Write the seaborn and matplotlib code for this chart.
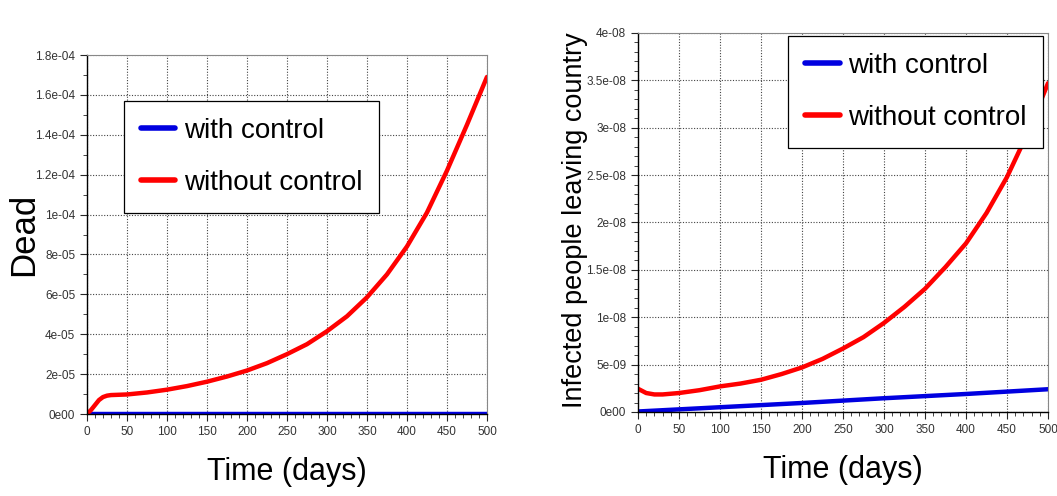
import numpy as np
import pandas as pd
import matplotlib
matplotlib.use("Agg")
import matplotlib.pyplot as plt
import matplotlib.ticker as mticker
import seaborn as sns

# values
dead_days = [0, 5, 10, 15, 20, 25, 30, 50, 75, 100, 125, 150, 175, 200, 225, 250,
             275, 300, 325, 350, 375, 400, 425, 450, 475, 500]
dead_without = [0, 0.2, 0.45, 0.7, 0.85, 0.92, 0.95, 0.98, 1.08, 1.22, 1.40, 1.62, 1.88,
                2.18, 2.55, 3.0, 3.5, 4.15, 4.9, 5.85, 7.0, 8.4, 10.1, 12.2, 14.5, 16.9]  # x1e-5
dead_with_days = [0, 500]
dead_with = [0, 0]

inf_days = [0, 10, 20, 30, 50, 75, 100, 125, 150, 175, 200, 225, 250, 275, 300, 325,
            350, 375, 400, 425, 450, 475, 500]
inf_without = [2.45, 2.0, 1.85, 1.85, 2.0, 2.3, 2.7, 3.0, 3.4, 4.0, 4.7, 5.6, 6.7, 7.9,
               9.4, 11.1, 13.0, 15.3, 17.8, 21.0, 24.8, 29.4, 34.7]  # x1e-9
inf_with_days = [0, 100, 200, 300, 400, 500]
inf_with = [0.05, 0.5, 0.95, 1.45, 1.9, 2.4]  # x1e-9

labels = ["with control", "without control"]
colors = {"with control": "#0000e0", "without control": "#ff0000"}

sns.set_style("white")
plt.rcParams["font.family"] = ["Liberation Sans", "DejaVu Sans"]
plt.rcParams["text.color"] = "black"
plt.rcParams["axes.labelcolor"] = "black"


def sci_fmt(v, pos):
    if abs(v) < 1e-20:
        return "0e00"
    m, e = f"{v:.1e}".split("e")
    if m.endswith(".0"):
        m = m[:-2]
    return f"{m}e{e}"


def make_df(d1, v1, d2, v2, scale):
    a = pd.DataFrame({"day": d1, "value": np.array(v1) * scale, "series": labels[0]})
    b = pd.DataFrame({"day": d2, "value": np.array(v2) * scale, "series": labels[1]})
    return pd.concat([a, b], ignore_index=True)


df_dead = make_df(dead_with_days, dead_with, dead_days, dead_without, 1e-5)
df_inf = make_df(inf_with_days, inf_with, inf_days, inf_without, 1e-9)

fig = plt.figure(figsize=(10.57, 4.96), dpi=100)
ax1 = fig.add_axes([0.0823, 0.1653, 0.3784, 0.7238])
ax2 = fig.add_axes([0.6036, 0.1694, 0.3879, 0.7641])


def style_axis(ax, ymax, ymajor, yminor, ylabel, ylsize, ylx, yly, legend_anchor, legend_loc):
    ax.set_xlim(0, 500)
    ax.set_ylim(0, ymax)
    ax.xaxis.set_major_locator(mticker.MultipleLocator(50))
    ax.xaxis.set_minor_locator(mticker.MultipleLocator(10))
    ax.yaxis.set_major_locator(mticker.MultipleLocator(ymajor))
    ax.yaxis.set_minor_locator(mticker.MultipleLocator(yminor))
    ax.yaxis.set_major_formatter(mticker.FuncFormatter(sci_fmt))
    ax.tick_params(which="major", direction="out", length=5, width=0.8,
                   labelsize=8.5, labelcolor="#333333", left=True, bottom=True)
    ax.tick_params(which="minor", direction="out", length=3, width=0.6, left=True, bottom=True)
    ax.grid(True, which="major", linestyle=(0, (1, 1.5)), color="#444444", linewidth=0.8)
    for s in ["left", "bottom"]:
        ax.spines[s].set_color("black")
        ax.spines[s].set_linewidth(1.0)
    for s in ["top", "right"]:
        ax.spines[s].set_color("#888888")
        ax.spines[s].set_linewidth(0.8)
    ax.set_xlabel("Time (days)", fontsize=22, labelpad=14)
    ax.set_ylabel(ylabel, fontsize=ylsize)
    ax.yaxis.set_label_coords(ylx, yly)
    leg = ax.legend(loc=legend_loc, bbox_to_anchor=legend_anchor, borderaxespad=0,
                    fontsize=20, frameon=True, fancybox=False, framealpha=1,
                    edgecolor="black", handlelength=1.25, handletextpad=0.3,
                    borderpad=0.6, labelspacing=0.95)
    leg.get_frame().set_linewidth(0.9)
    for line in leg.get_lines():
        line.set_linewidth(4)


sns.lineplot(data=df_dead, x="day", y="value", hue="series", palette=colors,
             linewidth=3.2, ax=ax1)
style_axis(ax1, 1.8e-4, 2e-5, 1e-5, "Dead", 25, -0.1175, 0.5, (0.0925, 0.872), "upper left")

sns.lineplot(data=df_inf, x="day", y="value", hue="series", palette=colors,
             linewidth=3.2, ax=ax2)
style_axis(ax2, 4e-8, 5e-9, 1e-9, "Infected people leaving country", 19.5, -0.122, 0.507,
           (0.988, 0.992), "upper right")

fig.savefig("out.png", dpi=100)
